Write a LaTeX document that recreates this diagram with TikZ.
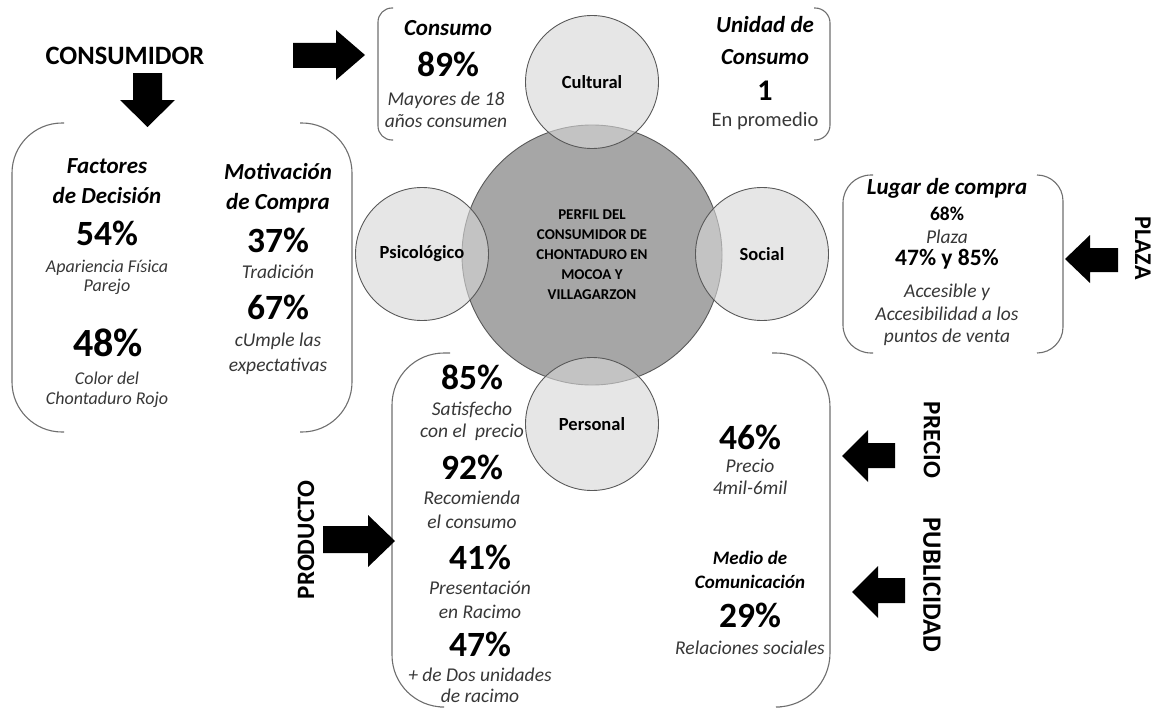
\documentclass[tikz,border=0pt]{standalone}
\usepackage{fontspec}
\setmainfont{Carlito}
\definecolor{maingray}{RGB}{166,166,166}
\definecolor{smallgray}{RGB}{214,214,214}
\definecolor{desctext}{RGB}{55,55,55}
\definecolor{brkline}{RGB}{110,110,110}
\begin{document}
\begin{tikzpicture}[x=1pt,y=-1pt,
  brk/.style={draw=brkline, line width=1.1pt},
  bigc/.style={circle, draw=black!65, line width=0.9pt, fill=maingray, minimum size=260pt, inner sep=0pt, align=center,
    font=\bfseries\fontsize{15}{20}\selectfont},
  smallc/.style={circle, draw=black!65, line width=0.9pt, fill=smallgray, fill opacity=0.62, text opacity=1,
    minimum size=133pt, inner sep=0pt, font=\bfseries\fontsize{18.5}{20}\selectfont},
  head/.style={align=center, inner sep=0pt, font=\bfseries\itshape\fontsize{23}{30}\selectfont},
  pct/.style={inner sep=0pt, font=\bfseries\fontsize{35.5}{38}\selectfont},
  desc/.style={align=center, inner sep=0pt, text=desctext, font=\itshape\fontsize{19.5}{22}\selectfont},
  side/.style={inner sep=0pt, font=\bfseries\fontsize{25}{27}\selectfont},
  blk/.style={fill=black}]
\useasboundingbox (0,0) rectangle (1156,709);

% ---------- circles ----------
\node[bigc] (main) at (592,255) {PERFIL DEL\\CONSUMIDOR DE\\CHONTADURO EN\\MOCOA Y\\VILLAGARZON};
\node[smallc] (cult) at (592,82) {Cultural};
\node[smallc] (psico) at (422,254) {Psicológico};
\node[smallc] (soc) at (762,254) {Social};
\node[smallc] (pers) at (592,424) {Personal};

% ---------- brackets ----------
% top
\draw[brk, rounded corners=14pt] (393,8) -- (378,8) -- (378,140) -- (393,140);
\draw[brk, rounded corners=15pt] (814,8) -- (830,8) -- (830,140) -- (814,140);
% left
\draw[brk, rounded corners=50pt] (64,123) -- (12,123) -- (12,432) -- (64,432);
\draw[brk, rounded corners=50pt] (300,123) -- (352,123) -- (352,432) -- (300,432);
% lugar de compra
\draw[brk, rounded corners=28pt] (873,175) -- (843,175) -- (843,353) -- (873,353);
\draw[brk, rounded corners=26pt] (1037,175) -- (1063,175) -- (1063,353) -- (1037,353);
% bottom
\draw[brk, rounded corners=52pt] (450,353) -- (392,353) -- (392,707) -- (440,707);
\draw[brk, rounded corners=54pt] (772,353) -- (830,353) -- (830,707) -- (780,707);

% ---------- block arrows ----------
\fill[blk] (293,43) -- (336,43) -- (336,30) -- (365,55) -- (336,80) -- (336,68) -- (293,68) -- cycle;
\fill[blk] (133,73) -- (162,73) -- (162,100) -- (175,100) -- (147.5,127) -- (120,100) -- (133,100) -- cycle;
\fill[blk] (1118,248) -- (1090,248) -- (1090,235) -- (1065,259) -- (1090,283) -- (1090,272) -- (1118,272) -- cycle;
\fill[blk] (895,443) -- (868,443) -- (868,430) -- (842,456) -- (868,482) -- (868,468) -- (895,468) -- cycle;
\fill[blk] (905,578) -- (878,578) -- (878,566) -- (852,592) -- (878,618) -- (878,603) -- (905,603) -- cycle;
\fill[blk] (323,526) -- (368,526) -- (368,515) -- (395,541) -- (368,567) -- (368,553) -- (323,553) -- cycle;

% ---------- side labels ----------
\node[side, font=\bfseries\fontsize{26.5}{28}\selectfont] (consumidor) at (125,56) {CONSUMIDOR};
\node[side, font=\bfseries\fontsize{24}{26}\selectfont, rotate=-90] (plaza) at (1143,248) {PLAZA};
\node[side, rotate=-90] (precio) at (932,440) {PRECIO};
\node[side, font=\bfseries\fontsize{26.5}{28}\selectfont, rotate=-90] (publicidad) at (932,585) {PUBLICIDAD};
\node[side, rotate=90] (producto) at (306,540) {PRODUCTO};

% ---------- top bracket texts ----------
\node[head] (consumoH) at (448,28) {Consumo};
\node[pct] (p89) at (448,64) {89\%};
\node[desc] (d89) at (446,110) {Mayores de 18\\años consumen};
\node[head, font=\bfseries\itshape\fontsize{23}{32}\selectfont] (unidadH) at (765,41) {Unidad de\\Consumo};
\node[inner sep=0pt, font=\bfseries\fontsize{30}{32}\selectfont] (p1) at (765,91) {1};
\node[inner sep=0pt, text=desctext, font=\fontsize{20.5}{22}\selectfont] (d1) at (765,121) {En promedio};

% ---------- left bracket texts ----------
\node[head] (factH) at (107,181) {Factores\\de Decisión};
\node[pct] (p54) at (107,233) {54\%};
\node[desc, font=\itshape\fontsize{18}{19}\selectfont] (d54) at (107,277) {Apariencia Física\\Parejo};
\node[pct, font=\bfseries\fontsize{40}{42}\selectfont] (p48) at (108,343) {48\%};
\node[desc, font=\itshape\fontsize{18}{20}\selectfont] (d48) at (107,390) {Color del\\Chontaduro Rojo};
\node[head] (motivH) at (278,188) {Motivación\\de Compra};
\node[pct] (p37) at (278,240) {37\%};
\node[desc] (d37) at (278,272) {Tradición};
\node[pct] (p67) at (278,307) {67\%};
\node[desc, font=\itshape\fontsize{19.5}{25}\selectfont] (d67) at (278,354) {cUmple las\\expectativas};

% ---------- lugar de compra ----------
\node[head] (lugarH) at (947,188) {Lugar de compra};
\node[inner sep=0pt, font=\bfseries\fontsize{19.5}{24}\selectfont] (p68) at (947,214) {68\%};
\node[desc] (d68) at (947,237) {Plaza};
\node[inner sep=0pt, font=\bfseries\fontsize{23.5}{24}\selectfont] (p4785) at (947,259) {47\% y 85\%};
\node[desc, font=\itshape\fontsize{19.5}{22.5}\selectfont] (dacc) at (947,315) {Accesible y\\Accesibilidad a los\\puntos de venta};

% ---------- bottom-left ----------
\node[pct] (p85) at (472,377) {85\%};
\node[desc] (d85) at (472,421) {Satisfecho\\con el~~precio};
\node[pct] (p92) at (472,467) {92\%};
\node[desc, font=\itshape\fontsize{19.5}{24}\selectfont] (d92) at (472,510) {Recomienda\\el consumo};
\node[pct] (p41) at (480,557) {41\%};
\node[desc, font=\itshape\fontsize{19.5}{24}\selectfont] (d41) at (480,600) {Presentación\\en Racimo};
\node[pct] (p47) at (480,644) {47\%};
\node[desc, font=\itshape\fontsize{19.5}{21}\selectfont] (d47) at (480,685) {+ de Dos unidades\\de racimo};

% ---------- bottom-right ----------
\node[pct] (p46) at (750,437) {46\%};
\node[desc] (d46) at (750,477) {Precio\\4mil-6mil};
\node[head, font=\bfseries\itshape\fontsize{19}{24}\selectfont] (medioH) at (750,570) {Medio de\\Comunicación};
\node[pct] (p29) at (750,615) {29\%};
\node[desc] (d29) at (750,648) {Relaciones sociales};
\end{tikzpicture}
\end{document}
